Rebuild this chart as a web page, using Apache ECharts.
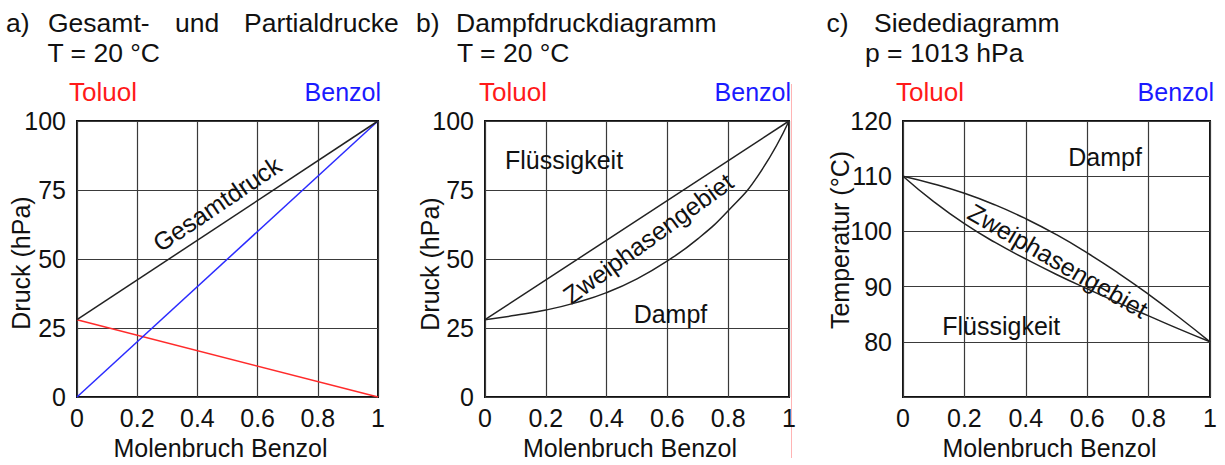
<!DOCTYPE html>
<html>
<head>
<meta charset="utf-8">
<script src="https://cdn.jsdelivr.net/npm/echarts@6/dist/echarts.min.js"></script>
<style>
  html, body { margin: 0; padding: 0; background: #fff; }
  #chart { width: 1225px; height: 465px; }
</style>
</head>
<body>
<div id="chart"></div>
<script>
// Mole fraction of benzene (x axis) for the two-point straight lines
const endFrac = [0, 1];
// a) partial and total vapour pressures at 20 °C (hPa)
const pToluol = [28, 0];
const pBenzol = [0, 100];
const pGesamt = [28, 100];

// Mole fraction samples for the curved phase boundaries
const curveFrac = [0, 0.1, 0.2, 0.3, 0.4, 0.5, 0.6, 0.7, 0.8, 0.9, 1];
// b) vapour pressure diagram: liquid line (straight) and vapour line (curved)
const pFluessigLinie = [28, 100];
const pDampfLinie = [28, 29.6, 31.5, 34.2, 37.8, 42.8, 49.3, 57.3, 67.5, 80.5, 100];
// c) boiling diagram at 1013 hPa: boiling line and dew line (°C)
const tSiedeLinie = [110, 105.4, 101.4, 98.0, 95.0, 92.2, 89.6, 87.1, 84.7, 82.3, 80];
const tTauLinie = [110, 108.6, 106.9, 104.8, 102.3, 99.4, 96.1, 92.5, 88.6, 84.4, 80];

// Axis ticks
const xTickStep = 0.2;
const pTickStep = 25;
const tTickStep = 10;
const tMin = 70, tMax = 120;

const FONT = "'Liberation Sans', Arial, Helvetica, sans-serif";
const INK = '#111';

function pairs(xs, ys) { return xs.map((x, i) => [x, ys[i]]); }

const chart = echarts.init(document.getElementById('chart'), null, { renderer: 'svg' });

const gridStyle = { show: true, borderColor: '#111', borderWidth: 2, backgroundColor: 'transparent' };
const splitStyle = { show: true, lineStyle: { color: '#3a3a3a', width: 1.2 } };

function xAxis(gridIndex) {
  return {
    type: 'value', gridIndex, min: 0, max: 1, interval: xTickStep,
    axisLine: { show: false }, axisTick: { show: false },
    splitLine: splitStyle,
    axisLabel: { fontSize: 25, color: INK, margin: 8, fontFamily: FONT },
    name: 'Molenbruch Benzol', nameLocation: 'middle', nameGap: 38,
    nameTextStyle: { fontSize: 25, color: INK, fontFamily: FONT, padding: [0, 14, 0, 0] }
  };
}
function yAxis(gridIndex, min, max, step, hideMin) {
  return {
    type: 'value', gridIndex, min, max, interval: step,
    axisLine: { show: false }, axisTick: { show: false },
    splitLine: splitStyle,
    axisLabel: {
      fontSize: 25, color: INK, margin: 11, fontFamily: FONT,
      formatter: v => (hideMin && v === min) ? '' : String(v)
    }
  };
}
function line(name, xi, data, color, smooth) {
  return {
    type: 'line', name, xAxisIndex: xi, yAxisIndex: xi, data,
    showSymbol: false, symbol: 'none', smooth: smooth ? 0.5 : false,
    silent: true,
    lineStyle: { color, width: 1.5 }
  };
}

chart.setOption({
  animation: false,
  textStyle: { fontFamily: FONT },
  grid: [
    Object.assign({ left: 77, top: 121, width: 301, height: 277 }, gridStyle),
    Object.assign({ left: 485, top: 121, width: 304, height: 278 }, gridStyle),
    Object.assign({ left: 903, top: 121, width: 307, height: 282 }, gridStyle)
  ],
  xAxis: [xAxis(0), xAxis(1), xAxis(2)],
  yAxis: [
    yAxis(0, 0, 100, pTickStep, false),
    yAxis(1, 0, 100, pTickStep, false),
    yAxis(2, tMin, tMax, tTickStep, true)
  ],
  series: [
    line('Partialdruck Toluol', 0, pairs(endFrac, pToluol), '#ff2b2b'),
    line('Partialdruck Benzol', 0, pairs(endFrac, pBenzol), '#2b2bff'),
    line('Gesamtdruck', 0, pairs(endFrac, pGesamt), '#222'),
    line('Siedelinie', 1, pairs(endFrac, pFluessigLinie), '#222'),
    line('Taulinie', 1, pairs(curveFrac, pDampfLinie), '#222', true),
    line('Siedelinie', 2, pairs(curveFrac, tSiedeLinie), '#222', true),
    line('Taulinie', 2, pairs(curveFrac, tTauLinie), '#222', true)
  ]
});

// Plain text placed at pixel positions
function txt(text, x, y, opts) {
  opts = opts || {};
  return {
    type: 'text', x, y, rotation: opts.rotation || 0, silent: true,
    style: {
      text, fontSize: opts.size || 25, fontFamily: FONT,
      fill: opts.color || INK,
      align: opts.align || 'left', verticalAlign: 'middle'
    }
  };
}
// Text anchored to data coordinates of a grid
function dataTxt(gridIndex, text, x, y, angleDeg) {
  const p = chart.convertToPixel({ gridIndex }, [x, y]);
  return txt(text, p[0], p[1], { align: 'center', rotation: (angleDeg || 0) * Math.PI / 180 });
}

const RED = '#ff1a1a', BLUE = '#1a1aff';
const H = { size: 26.5 };
const graphics = [
  // headings
  txt('a)', 6, 22.5, H), txt('Gesamt-', 48, 22.5, H), txt('und', 175, 22.5, H), txt('Partialdrucke', 244, 22.5, H),
  txt('T = 20 °C', 47.5, 52.5, H),
  txt('b)', 416, 22.5, H), txt('Dampfdruckdiagramm', 456, 22.5, H),
  txt('T = 20 °C', 457, 52.5, H),
  txt('c)', 826.5, 22.5, H), txt('Siedediagramm', 874, 22.5, H),
  txt('p = 1013 hPa', 865, 52.5, H),
  // pure components at both ends of the composition axis
  txt('Toluol', 69, 91.5, { color: RED, size: 26 }), txt('Benzol', 381, 91.5, { color: BLUE, align: 'right' }),
  txt('Toluol', 479, 91.5, { color: RED, size: 26 }), txt('Benzol', 791, 91.5, { color: BLUE, align: 'right' }),
  txt('Toluol', 896, 91.5, { color: RED, size: 26 }), txt('Benzol', 1214, 91.5, { color: BLUE, align: 'right' }),
  // y axis titles
  txt('Druck (hPa)', 21, 263, { align: 'center', rotation: Math.PI / 2 }),
  txt('Druck (hPa)', 430, 264, { align: 'center', rotation: Math.PI / 2 }),
  txt('Temperatur (°C)', 840, 240, { align: 'center', rotation: Math.PI / 2 }),
  // region labels inside the plots
  dataTxt(0, 'Gesamtdruck', 0.465, 70, 34),
  dataTxt(1, 'Flüssigkeit', 0.26, 86, 0),
  dataTxt(1, 'Dampf', 0.61, 30, 0),
  dataTxt(1, 'Zweiphasengebiet', 0.536, 57.5, 36),
  dataTxt(2, 'Dampf', 0.658, 113.4, 0),
  dataTxt(2, 'Flüssigkeit', 0.32, 82.8, 0),
  dataTxt(2, 'Zweiphasengebiet', 0.505, 94.7, -30),
  // thin pink separator line to the right of panel b
  { type: 'line', silent: true, shape: { x1: 791.5, y1: 84, x2: 791.5, y2: 458 },
    style: { stroke: '#ffb4b4', lineWidth: 1 } }
];
chart.setOption({ graphic: graphics });
</script>
</body>
</html>
